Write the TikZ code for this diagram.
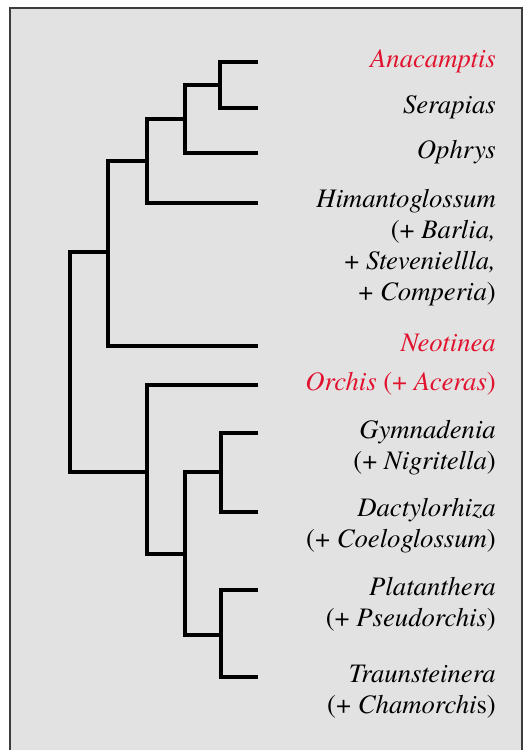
\documentclass[tikz,border=0pt]{standalone}
\usepackage{fontspec}
\IfFontExistsTF{texgyretermes-italic.otf}
  {\setmainfont{texgyretermes}[Extension=.otf,UprightFont=*-regular,ItalicFont=*-italic,BoldFont=*-bold,BoldItalicFont=*-bolditalic]}
  {}
\definecolor{panel}{RGB}{225,226,225}
\definecolor{framec}{RGB}{60,60,60}
\definecolor{taxred}{RGB}{226,18,46}
\begin{document}
\begin{tikzpicture}[x=1pt,y=-1pt,
  branch/.style={line width=4.4pt,line join=miter,line cap=butt,black},
  lab/.style={anchor=base east,inner sep=0pt,align=right,
    font=\fontsize{26.7}{31}\selectfont},
  redlab/.style={lab,text=taxred}]
\useasboundingbox (0,0) rectangle (525,750);
\fill[white] (0,0) rectangle (525,750);
\draw[fill=panel,draw=framec,line width=1.3pt] (10,8) rectangle (522,770);

% leaf tips
\coordinate (tA) at (258,62);
\coordinate (tS) at (258,108);
\coordinate (tO) at (258,153);
\coordinate (tH) at (258,203);
\coordinate (tN) at (258,346);
\coordinate (tOr) at (258,385);
\coordinate (tG) at (258,433);
\coordinate (tD) at (258,512);
\coordinate (tP) at (258,590);
\coordinate (tT) at (258,677);

% internal nodes
\coordinate (c1) at (220,85);
\coordinate (c2) at (185,119);
\coordinate (c3) at (147,161);
\coordinate (c4) at (108,252);
\coordinate (root) at (70,362);
\coordinate (c5) at (147,472);
\coordinate (c6) at (221,472);
\coordinate (c7) at (185,554);
\coordinate (c8) at (221,635);

\draw[branch] (tA) -| (c1) |- (tS);
\draw[branch] (c1) -| (c2) |- (tO);
\draw[branch] (c2) -| (c3) |- (tH);
\draw[branch] (c3) -| (c4) |- (tN);
\draw[branch] (c4) -| (root) |- (c5);
\draw[branch] (tOr) -| (c5) |- (c7);
\draw[branch] (tG) -| (c6) |- (tD);
\draw[branch] (c6) -| (c7) |- (c8);
\draw[branch] (tP) -| (c8) |- (tT);

% labels (multi-line nodes are placed by their last baseline)
\node[redlab] (lA) at (496,67.5) {\textit{Anacamptis}};
\node[lab] (lS) at (496,113.5) {\textit{Serapias}};
\node[lab] (lO) at (496,158.5) {\textit{Ophrys}};
\node[lab] (lH) at (496,300.5) {\textit{Himantoglossum}\\(+ \textit{Barlia,}\\+ \textit{Steveniellla,}\\+ \textit{Comperia})};
\node[redlab] (lN) at (496,351) {\textit{Neotinea}};
\node[redlab] (lOr) at (496,390) {\textit{Orchis} (+ \textit{Aceras})};
\node[lab] (lG) at (496,469.5) {\textit{Gymnadenia}\\(+ \textit{Nigritella})};
\node[lab] (lD) at (496,547.5) {\textit{Dactylorhiza}\\(+ \textit{Coeloglossum})};
\node[lab] (lP) at (496,626.5) {\textit{Platanthera}\\(+ \textit{Pseudorchis})};
\node[lab] (lT) at (496,713) {\textit{Traunsteinera}\\(+ \textit{Chamorchi}s)};
\end{tikzpicture}
\end{document}
